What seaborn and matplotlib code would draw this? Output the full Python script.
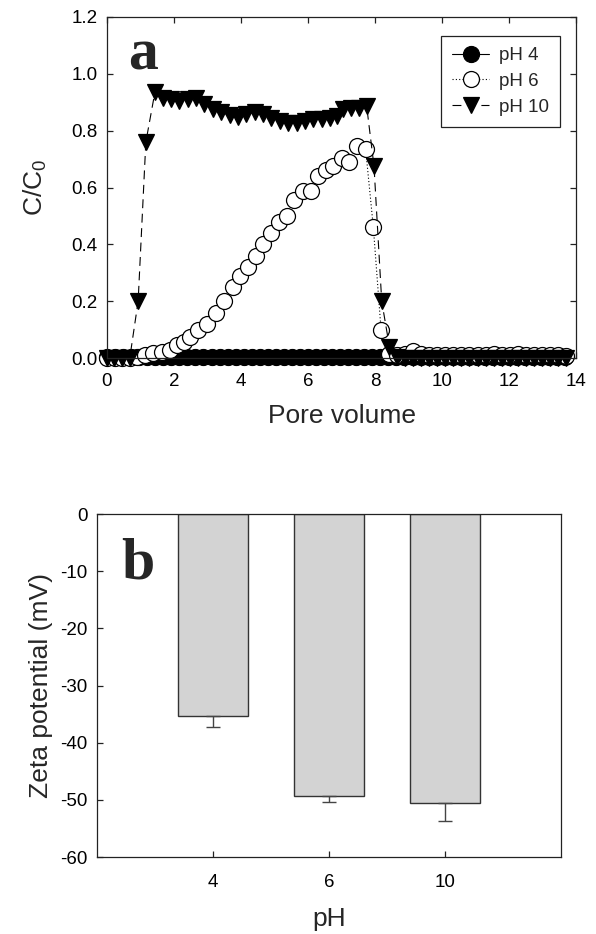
# -*- coding: utf-8 -*-
"""
Breakthrough curves at three pH values (a) and zeta potential of the particles (b)
"""

import matplotlib
matplotlib.use("Agg")
import matplotlib.pyplot as plt
import seaborn as sns
import pandas as pd
import numpy as np

# ---- data ----
# panel a: C/C0 against pore volume
pv_ph4 = [0.0, 0.24, 0.48, 0.72, 0.96, 1.2, 1.44, 1.68, 1.92, 2.16, 2.4, 2.64,
          2.88, 3.12, 3.36, 3.6, 3.84, 4.08, 4.32, 4.56, 4.8, 5.04, 5.28, 5.52,
          5.76, 6.0, 6.24, 6.48, 6.72, 6.96, 7.2, 7.44, 7.68, 7.92, 8.16, 8.4,
          8.64, 8.88, 9.12, 9.36, 9.6, 9.84, 10.08, 10.32, 10.56, 10.8, 11.04,
          11.28, 11.52, 11.76, 12.0, 12.24, 12.48, 12.72, 12.96, 13.2, 13.44, 13.68]
c_ph4 = [0.002, 0.002, 0.003, 0.002, 0.003, 0.003, 0.002, 0.003, 0.003, 0.004,
         0.003, 0.003, 0.003, 0.002, 0.003, 0.003, 0.003, 0.003, 0.004, 0.003,
         0.003, 0.003, 0.003, 0.003, 0.003, 0.003, 0.003, 0.003, 0.003, 0.003,
         0.003, 0.003, 0.003, 0.003, 0.003, 0.003, 0.003, 0.003, 0.003, 0.003,
         0.003, 0.003, 0.003, 0.003, 0.003, 0.003, 0.003, 0.003, 0.003, 0.003,
         0.003, 0.003, 0.003, 0.003, 0.003, 0.003, 0.003, 0.003]

pv_ph6 = [0.0, 0.23, 0.45, 0.68, 0.9, 1.13, 1.38, 1.63, 1.88, 2.10, 2.30, 2.48,
          2.73, 3.00, 3.25, 3.50, 3.75, 3.97, 4.22, 4.44, 4.67, 4.91, 5.14, 5.36,
          5.59, 5.84, 6.08, 6.31, 6.54, 6.76, 7.00, 7.23, 7.47, 7.72, 7.95, 8.18,
          8.42, 8.66, 8.90, 9.14, 9.38, 9.62, 9.86, 10.10, 10.34, 10.58, 10.82,
          11.06, 11.30, 11.54, 11.78, 12.02, 12.26, 12.50, 12.74, 12.98, 13.22,
          13.46, 13.70]
c_ph6 = [0.0, 0.0, 0.0, 0.0, 0.005, 0.01, 0.017, 0.022, 0.028, 0.046, 0.058, 0.075,
         0.10, 0.12, 0.16, 0.20, 0.25, 0.29, 0.32, 0.36, 0.40, 0.44, 0.48, 0.50,
         0.555, 0.587, 0.587, 0.64, 0.66, 0.675, 0.705, 0.69, 0.747, 0.735, 0.46, 0.10,
         0.015, 0.012, 0.015, 0.025, 0.015, 0.012, 0.012, 0.012, 0.012, 0.012, 0.012,
         0.012, 0.012, 0.015, 0.012, 0.012, 0.015, 0.012, 0.012, 0.012, 0.010,
         0.010, 0.008]

pv_ph10 = [0.0, 0.2, 0.45, 0.68, 0.93, 1.16, 1.43, 1.66, 1.91, 2.16, 2.41, 2.66,
           2.91, 3.16, 3.41, 3.66, 3.91, 4.16, 4.41, 4.66, 4.91, 5.16, 5.41, 5.66,
           5.91, 6.16, 6.41, 6.66, 6.86, 7.05, 7.28, 7.52, 7.75, 7.97, 8.2, 8.43,
           8.66, 8.90, 9.14, 9.38, 9.62, 9.86, 10.10, 10.34, 10.58, 10.82, 11.06,
           11.30, 11.54, 11.78, 12.02, 12.26, 12.50, 12.74, 12.98, 13.22, 13.46, 13.70]
c_ph10 = [0.0, 0.0, 0.0, 0.0, 0.20, 0.76, 0.935, 0.915, 0.91, 0.905, 0.912, 0.915,
          0.895, 0.875, 0.864, 0.855, 0.848, 0.858, 0.864, 0.858, 0.846, 0.834,
          0.828, 0.828, 0.834, 0.84, 0.84, 0.845, 0.852, 0.875, 0.881, 0.881,
          0.887, 0.675, 0.20, 0.04, 0.005, 0.0, 0.0, 0.0, 0.0, 0.0, 0.0, 0.0,
          0.0, 0.0, 0.0, 0.0, 0.0, 0.0, 0.0, 0.0, 0.0, 0.0, 0.0, 0.0, 0.0, 0.0]

# panel b: zeta potential
ph_labels = ["4", "6", "10"]
zeta_mv = [-35.4, -49.3, -50.6]
zeta_err = [1.9, 1.0, 3.1]

# ---- style ----
sns.set_style("ticks")
plt.rcParams['font.family'] = ['Liberation Sans', 'DejaVu Sans']
plt.rcParams['mathtext.fontset'] = 'custom'
plt.rcParams['mathtext.rm'] = 'Liberation Sans'
plt.rcParams['mathtext.it'] = 'Liberation Sans:italic'
plt.rcParams['axes.unicode_minus'] = False
plt.rcParams['axes.edgecolor'] = '#222222'
plt.rcParams['axes.linewidth'] = 0.9
plt.rcParams['xtick.direction'] = 'in'
plt.rcParams['ytick.direction'] = 'in'
plt.rcParams['xtick.color'] = '#222222'
plt.rcParams['ytick.color'] = '#222222'
plt.rcParams['xtick.labelcolor'] = 'black'
plt.rcParams['ytick.labelcolor'] = 'black'

TICK_FS = 13.5
LABEL_FS = 19
MS = 11.5

fig = plt.figure(figsize=(5.96, 9.34), dpi=100)
ax_a = fig.add_axes([0.1795, 0.6167, 0.787, 0.3651])
ax_b = fig.add_axes([0.1628, 0.0824, 0.7785, 0.3672])

# ---- panel a ----
series = [
    (pv_ph4, c_ph4, "pH 4", "-", "o", "black"),
    (pv_ph6, c_ph6, "pH 6", (0, (1, 2)), "o", "white"),
    (pv_ph10, c_ph10, "pH 10", (0, (8, 5)), "v", "black"),
]
for x, y, lab, ls, mk, face in series:
    df = pd.DataFrame({"pv": x, "c": y})
    sns.lineplot(data=df, x="pv", y="c", ax=ax_a, color="black", linestyle=ls,
                 linewidth=0.8, marker=mk, markersize=MS, markerfacecolor=face,
                 markeredgecolor="black", markeredgewidth=0.9, label=lab,
                 clip_on=False, sort=False)

ax_a.set_xlim(0, 14)
ax_a.set_ylim(0, 1.2)
ax_a.set_xticks(np.arange(0, 15, 2))
ax_a.set_yticks(np.arange(0, 1.21, 0.2))
ax_a.set_yticklabels(["0.0", "0.2", "0.4", "0.6", "0.8", "1.0", "1.2"])
ax_a.tick_params(top=True, right=True, length=4, width=0.9,
                 labelsize=TICK_FS, pad=7)
ax_a.tick_params(axis="x", pad=11)
ax_a.set_xlabel("Pore volume", fontsize=LABEL_FS, labelpad=10)
ax_a.set_ylabel(r"C/C$_0$", fontsize=LABEL_FS, labelpad=16)
ax_a.text(0.077, 0.845, "a", transform=ax_a.transAxes, fontsize=43,
          fontweight="bold", family="Liberation Serif", ha="center", va="baseline")

leg = ax_a.legend(loc="upper right", bbox_to_anchor=(0.966, 0.944),
                  borderaxespad=0, fontsize=13.5, frameon=True, fancybox=False,
                  handlelength=2.0, handletextpad=0.5, labelspacing=0.45,
                  borderpad=0.6)
leg.get_frame().set_edgecolor("#222222")
leg.get_frame().set_linewidth(0.9)
leg.get_frame().set_alpha(1)
for h in leg.legend_handles:
    h.set_markersize(11.5)

# ---- panel b ----
df_b = pd.DataFrame({"ph": ph_labels, "zeta": zeta_mv})
sns.barplot(data=df_b, x="ph", y="zeta", ax=ax_b, color="#d3d3d3",
            edgecolor="#333333", linewidth=1.0, width=0.6, errorbar=None,
            saturation=1)
err_lo = np.array(zeta_err)
ax_b.errorbar(np.arange(len(ph_labels)), zeta_mv,
              yerr=[err_lo, np.zeros_like(err_lo)], fmt="none",
              ecolor="#444444", elinewidth=1.0, capsize=5, capthick=1.0)

ax_b.set_xlim(-1, 3)
ax_b.set_ylim(-60, 0)
ax_b.set_yticks(np.arange(-60, 1, 10))
ax_b.tick_params(length=4, width=0.9, labelsize=TICK_FS, pad=7)
ax_b.tick_params(axis="x", pad=12)
ax_b.set_xlabel("pH", fontsize=LABEL_FS, labelpad=12)
ax_b.set_ylabel("Zeta potential (mV)", fontsize=LABEL_FS, labelpad=5)
ax_b.text(0.088, 0.813, "b", transform=ax_b.transAxes, fontsize=43,
          fontweight="bold", family="Liberation Serif", ha="center", va="baseline")
for s in ax_b.spines.values():
    s.set_visible(True)

fig.savefig("out.png", dpi=100, facecolor="white")
